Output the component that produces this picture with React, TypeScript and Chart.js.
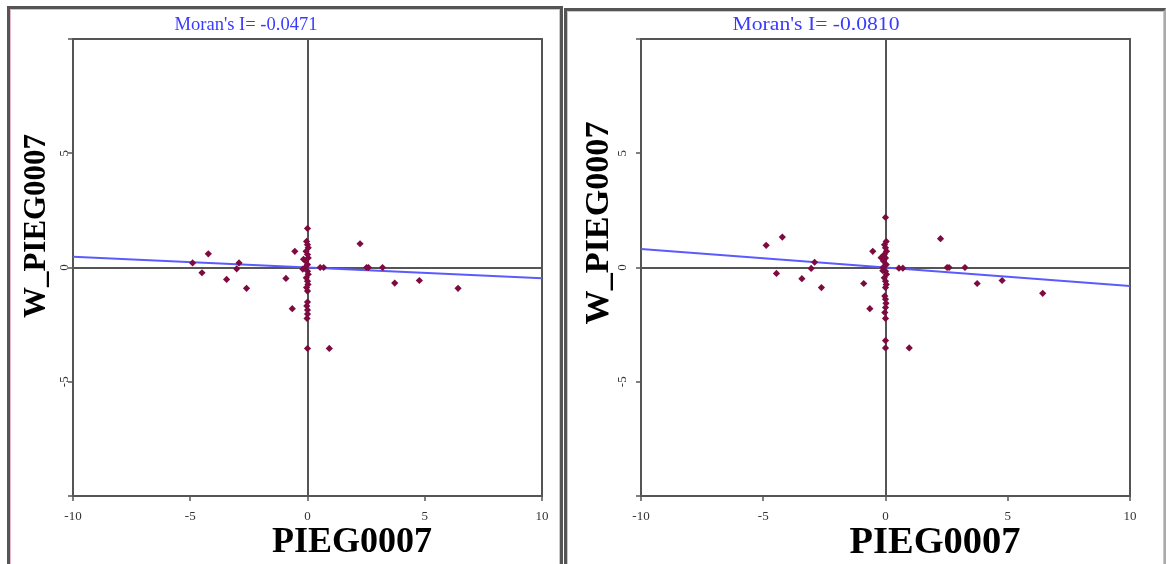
import { useEffect, useRef } from "react";
import { Chart, registerables } from "chart.js";

Chart.register(...registerables);

// Axis ticks and titles
const xTickValues = [-10, -5, 0, 5, 10];
const yTickValues = [-5, 0, 5];
const xAxisTitle = "PIEG0007";
const yAxisTitle = "W_PIEG0007";

// Left plot: PIEG0007 vs spatial lag
const leftMoran = -0.0471;
const leftPieg = [
  -4.9, -4.23, -4.5, -2.92, -3.02, -3.45, -2.6, -0.92, -0.54, -0.65, 2.24, 0.54, 0.69, 2.52, 2.6, 3.2, 3.72, 4.77,
  6.42, 0.93, -0.17, -0.2,
  0, -0.04, 0, 0.03, -0.06, 0, 0.03, -0.08, 0, -0.1, 0, 0.03, -0.05, 0, 0.02, -0.04, 0, 0, -0.03, 0, 0, -0.02, 0,
];
const leftWPieg = [
  0.2, 0.6, -0.23, 0.2, -0.06, -0.52, -0.91, -0.48, 0.71, -1.8, 1.04, 0, 0, 0, 0, 0, -0.68, -0.57, -0.91, -3.54,
  0.36, -0.07,
  1.71, 1.14, 1.0, 0.86, 0.71, 0.57, 0.42, 0.28, 0.13, 0, -0.16, -0.3, -0.45, -0.6, -0.74, -0.88, -1.03, -1.51,
  -1.68, -1.86, -2.04, -2.23, -3.54,
];

// Right plot: PIEG0007 vs spatial lag (alternative weights)
const rightMoran = -0.081;
const rightPieg = [
  -4.88, -4.22, -4.46, -2.9, -3.04, -3.42, -2.62, -0.89, -0.52, -0.64, 2.25, 0.55, 0.71, 2.52, 2.6, 3.25, 3.75,
  4.77, 6.43, 0.97, -0.18, -0.11,
  0, 0.03, -0.04, 0, 0.04, -0.05, 0, -0.08, 0.03, -0.1, 0, 0.04, -0.05, 0, 0.03, 0, -0.03, 0, 0.02, 0, -0.03, 0, 0,
  0,
];
const rightWPieg = [
  0.97, 1.33, -0.26, 0.23, -0.04, -0.49, -0.88, -0.7, 0.71, -1.8, 1.26, -0.03, -0.03, 0, 0, 0, -0.7, -0.57, -1.13,
  -3.52, 0.43, -0.14,
  2.19, 1.14, 1.0, 0.86, 0.71, 0.57, 0.42, 0.28, 0.13, 0, -0.16, -0.3, -0.45, -0.6, -0.74, -0.88, -1.25, -1.39,
  -1.57, -1.75, -1.97, -2.23, -3.2, -3.52,
];

const SERIF = '"Liberation Serif", "Times New Roman", serif';

type Layout = {
  left: number;
  width: number;
  height: number;
  yAxisWidth: number;
  xAxisHeight: number;
  padTop: number;
  padRight: number;
  titleX: number;
  titleY: number;
  titleW: number;
  xTitleX: number;
  xTitleY: number;
  xTitleW: number;
  xTitleSize: number;
  yTitleX: number;
  yTitleY: number;
  yTitleW: number;
  yTitleSize: number;
  yTickX: number;
  xTickY: number;
};

function drawText(
  ctx: CanvasRenderingContext2D,
  text: string,
  x: number,
  y: number,
  font: string,
  color: string,
  width = 0,
  angle = 0
) {
  ctx.save();
  ctx.font = font;
  ctx.fillStyle = color;
  ctx.textAlign = "center";
  ctx.textBaseline = "middle";
  ctx.translate(x, y);
  ctx.rotate(angle);
  if (width) {
    const w = ctx.measureText(text).width;
    ctx.scale(width / w, 1);
  }
  ctx.fillText(text, 0, 0);
  ctx.restore();
}

const decor = {
  id: "moranDecor",
  beforeDatasetsDraw(chart: any) {
    const { ctx, chartArea } = chart;
    ctx.save();
    ctx.strokeStyle = "#555";
    ctx.lineWidth = 2;
    ctx.strokeRect(chartArea.left, chartArea.top, chartArea.right - chartArea.left, chartArea.bottom - chartArea.top);
    ctx.restore();
  },
  afterDraw(chart: any, _args: any, opts: any) {
    const ctx: CanvasRenderingContext2D = chart.ctx;
    const L: Layout = opts.layout;
    const xs = chart.scales.x;
    const ys = chart.scales.y;
    drawText(ctx, `Moran's I= ${opts.moran.toFixed(4)}`, L.titleX, L.titleY, `18px ${SERIF}`, "#3a3aff", L.titleW);
    for (const v of xTickValues) {
      drawText(ctx, String(v), xs.getPixelForValue(v), L.xTickY, `13px ${SERIF}`, "#333");
    }
    for (const v of yTickValues) {
      drawText(ctx, String(v), L.yTickX, ys.getPixelForValue(v), `13px ${SERIF}`, "#333", 0, -Math.PI / 2);
    }
    drawText(ctx, xAxisTitle, L.xTitleX, L.xTitleY, `bold ${L.xTitleSize}px ${SERIF}`, "#000", L.xTitleW);
    drawText(ctx, yAxisTitle, L.yTitleX, L.yTitleY, `bold ${L.yTitleSize}px ${SERIF}`, "#000", L.yTitleW, -Math.PI / 2);
  },
};

function MoranPlot({ xs, ys, moran, layout }: { xs: number[]; ys: number[]; moran: number; layout: Layout }) {
  const ref = useRef<HTMLCanvasElement>(null);
  useEffect(() => {
    const canvas = ref.current;
    if (!canvas) return;
    const points = xs.map((x, i) => ({ x, y: ys[i] }));
    const fit = [
      { x: -10, y: moran * -10 },
      { x: 10, y: moran * 10 },
    ];
    const zeroColor = (c: any) => (c.tick && c.tick.value === 0 ? "#555" : "rgba(0,0,0,0)");
    const chart = new Chart(canvas, {
      type: "scatter",
      data: {
        datasets: [
          {
            type: "scatter",
            data: points,
            order: 0,
            pointStyle: "rectRot",
            pointRadius: 3.6,
            backgroundColor: "#7e0b40",
            borderColor: "#7e0b40",
            borderWidth: 0,
          },
          {
            type: "line",
            data: fit,
            order: 1,
            showLine: true,
            pointRadius: 0,
            borderColor: "#5a5aff",
            borderWidth: 1.8,
            fill: false,
          },
        ],
      },
      options: {
        animation: false,
        responsive: false,
        devicePixelRatio: 1,
        events: [],
        layout: { padding: { top: layout.padTop, right: layout.padRight, left: 0, bottom: 0 } },
        plugins: {
          legend: { display: false },
          tooltip: { enabled: false },
          moranDecor: { moran, layout },
        } as any,
        scales: {
          x: {
            type: "linear",
            min: -10,
            max: 10,
            ticks: { display: false, stepSize: 5 },
            border: { display: false },
            grid: { color: zeroColor, lineWidth: 2, drawTicks: true, tickLength: 5, tickColor: "#555", tickWidth: 1.5 },
            afterFit: (s: any) => {
              s.height = layout.xAxisHeight;
            },
          },
          y: {
            type: "linear",
            min: -10,
            max: 10,
            ticks: { display: false, stepSize: 5 },
            border: { display: false },
            grid: { color: zeroColor, lineWidth: 2, drawTicks: true, tickLength: 5, tickColor: "#555", tickWidth: 1.5 },
            afterFit: (s: any) => {
              s.width = layout.yAxisWidth;
            },
          },
        },
      },
      plugins: [decor],
    } as any);
    return () => chart.destroy();
  }, [xs, ys, moran, layout]);
  return (
    <canvas
      ref={ref}
      width={layout.width}
      height={layout.height}
      style={{ position: "absolute", left: layout.left, top: 0, width: layout.width, height: layout.height }}
    />
  );
}

const leftLayout: Layout = {
  left: 0,
  width: 565,
  height: 564,
  yAxisWidth: 73,
  xAxisHeight: 68,
  padTop: 39,
  padRight: 23,
  titleX: 246,
  titleY: 25,
  titleW: 143,
  xTitleX: 352,
  xTitleY: 543,
  xTitleW: 160,
  xTitleSize: 36,
  yTitleX: 37,
  yTitleY: 226,
  yTitleW: 184,
  yTitleSize: 31,
  yTickX: 65,
  xTickY: 517,
};

const rightLayout: Layout = {
  left: 565,
  width: 601,
  height: 564,
  yAxisWidth: 76,
  xAxisHeight: 68,
  padTop: 39,
  padRight: 36,
  titleX: 251,
  titleY: 25,
  titleW: 167,
  xTitleX: 370,
  xTitleY: 543,
  xTitleW: 171,
  xTitleSize: 37,
  yTitleX: 34,
  yTitleY: 223,
  yTitleW: 203,
  yTitleSize: 34,
  yTickX: 58,
  xTickY: 517,
};

const frameBase: React.CSSProperties = {
  position: "absolute",
  height: 700,
  boxSizing: "border-box",
  borderStyle: "solid",
  borderColor: "#555",
  borderWidth: 3,
  boxShadow: "inset 0 0 0 1px #e6b8cf",
};

export default function App() {
  return (
    <div
      style={{
        position: "fixed",
        left: 0,
        top: 0,
        width: 1166,
        height: 564,
        overflow: "hidden",
        background: "#fff",
      }}
    >
      <div style={{ ...frameBase, left: 7, top: 6, width: 556 }} />
      <div style={{ ...frameBase, left: 564, top: 8, width: 602, borderRightColor: "#aaa", borderRightWidth: 2 }} />
      <MoranPlot xs={leftPieg} ys={leftWPieg} moran={leftMoran} layout={leftLayout} />
      <MoranPlot xs={rightPieg} ys={rightWPieg} moran={rightMoran} layout={rightLayout} />
    </div>
  );
}
